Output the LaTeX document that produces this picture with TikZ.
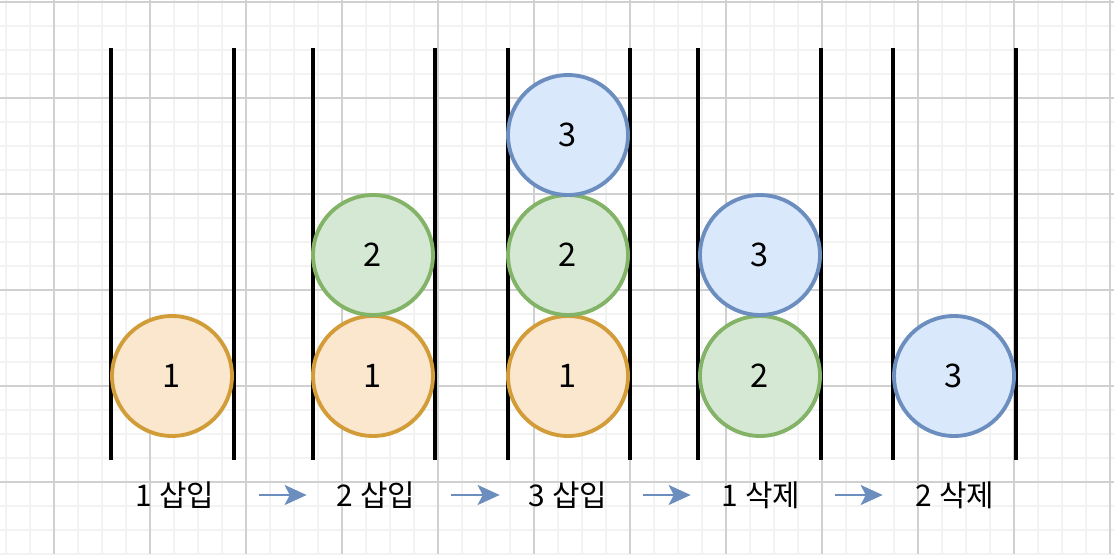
\documentclass[tikz,border=0pt]{standalone}
\usepackage{fontspec}
\setmainfont{Noto Sans CJK KR}
\usepackage{tikz}
\usetikzlibrary{arrows.meta}
\definecolor{OrFill}{HTML}{FBE6CE}
\definecolor{OrLine}{HTML}{D29D38}
\definecolor{GrFill}{HTML}{D5E8D4}
\definecolor{GrLine}{HTML}{82B366}
\definecolor{BlFill}{HTML}{DAE8FC}
\definecolor{BlLine}{HTML}{6C8EBF}
\definecolor{GridMinor}{HTML}{F3F3F3}
\definecolor{GridMajor}{HTML}{D0D0D0}

\begin{document}
\begin{tikzpicture}[x=0.02cm, y=-0.02cm,
          ball/.style={circle, draw, line width=2.2pt, minimum size=2.4cm,
                       inner sep=0pt, font=\fontsize{18.5}{22}\selectfont},
          one/.style={ball, fill=OrFill, draw=OrLine},
          two/.style={ball, fill=GrFill, draw=GrLine},
          three/.style={ball, fill=BlFill, draw=BlLine},
          wall/.style={line width=2.3pt, black},
          lbl/.style={font=\fontsize{17}{20}\selectfont, inner sep=0pt,
                      minimum width=1.6cm},
          arr/.style={-{Stealth[length=0.44cm, width=0.4cm, inset=0.1cm]},
                      line width=1.2pt, BlLine}
        ]
        % Canvas and grid
        \useasboundingbox (0,0) rectangle (1114,554);
        \fill[white] (0,0) rectangle (1114,554);
        \foreach \gx in {6,30,...,1114} \draw[GridMinor, line width=0.6pt] (\gx,0) -- (\gx,554);
        \foreach \gy in {2,26,...,554} \draw[GridMinor, line width=0.6pt] (0,\gy) -- (1114,\gy);
        \foreach \gx in {54,150,...,1114} \draw[GridMajor, line width=0.6pt] (\gx,0) -- (\gx,554);
        \foreach \gy in {2,98,...,554} \draw[GridMajor, line width=0.6pt] (0,\gy) -- (1114,\gy);

        % Tubes
        \foreach \wx in {111,234,313,435,508,630,698,821,893,1016}
          \draw[wall] (\wx,48) -- (\wx,460);

        % 1 insert
        \node[one] (a1) at (172,376) {1};

        % 2 insert
        \node[one] (b1) at (373,376) {1};
        \node[two] (b2) at (373,255) {2};

        % 3 insert
        \node[one]   (c1) at (568,376) {1};
        \node[two]   (c2) at (568,255) {2};
        \node[three] (c3) at (568,135) {3};

        % 1 delete
        \node[two]   (d2) at (760,376) {2};
        \node[three] (d3) at (760,255) {3};

        % 2 delete
        \node[three] (e3) at (954,376) {3};

        % Step labels
        \node[lbl] (l1) at (175,495) {1 삽입};
        \node[lbl] (l2) at (376,495) {2 삽입};
        \node[lbl] (l3) at (568,495) {3 삽입};
        \node[lbl] (l4) at (761,495) {1 삭제};
        \node[lbl] (l5) at (955,495) {2 삭제};

        % Arrows
        \draw[arr, shorten <=0.88cm, shorten >=0.58cm] (l1) -- (l2);
        \draw[arr, shorten <=0.70cm, shorten >=0.56cm] (l2) -- (l3);
        \draw[arr, shorten <=0.70cm, shorten >=0.60cm] (l3) -- (l4);
        \draw[arr, shorten <=0.68cm, shorten >=0.64cm] (l4) -- (l5);
      \end{tikzpicture}
\end{document}
